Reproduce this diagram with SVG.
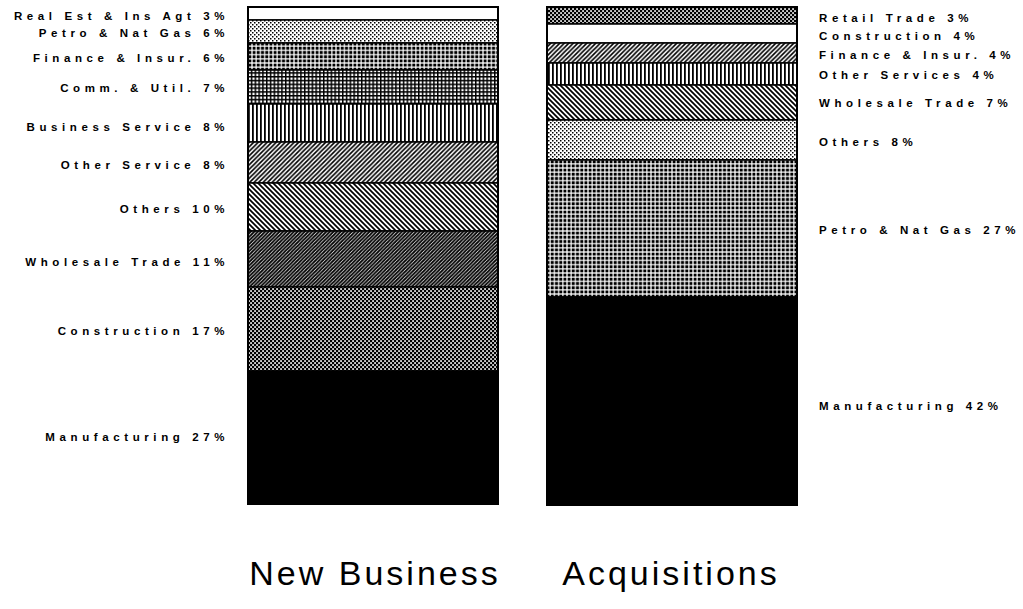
<svg xmlns="http://www.w3.org/2000/svg" width="1023" height="609" viewBox="0 0 1023 609">
<style>
.lbl{font-family:"Liberation Sans",Arial,sans-serif;font-weight:bold;font-size:11.5px;letter-spacing:4.6px;fill:#000}
.l{text-anchor:end}
.ttl{font-family:"Liberation Sans",Arial,sans-serif;font-size:34px;letter-spacing:3px;fill:#000;text-anchor:middle}
.seg{stroke:#000;stroke-width:1.5}
.out{fill:none;stroke:#000;stroke-width:2}
</style>
<defs>
<pattern id="pFine" width="4" height="4" patternUnits="userSpaceOnUse">
<rect width="4" height="4" fill="#fff"/>
<rect x="0" y="0" width="1.5" height="1.5" fill="#000"/>
<rect x="2" y="2" width="1.5" height="1.5" fill="#000"/>
</pattern>
<pattern id="pDots" width="4.2" height="4.2" patternUnits="userSpaceOnUse">
<rect width="4.2" height="4.2" fill="#fff"/>
<rect x="0.6" y="0.6" width="3" height="3" fill="#000"/>
</pattern>
<pattern id="pGrid" width="3.8" height="3.8" patternUnits="userSpaceOnUse">
<rect width="3.8" height="3.8" fill="#fff"/>
<rect x="0" y="0" width="3.8" height="1.5" fill="#000"/>
<rect x="0" y="0" width="1.5" height="3.8" fill="#000"/>
</pattern>
<pattern id="pVert" width="4" height="4" patternUnits="userSpaceOnUse">
<rect width="4" height="4" fill="#fff"/>
<rect x="0" y="0" width="1.8" height="4" fill="#000"/>
</pattern>
<pattern id="pFwd" width="4.5" height="4.5" patternUnits="userSpaceOnUse">
<rect width="4.5" height="4.5" fill="#fff"/>
<path d="M-1,1 L1,-1 M0,4.5 L4.5,0 M3.5,5.5 L5.5,3.5" stroke="#000" stroke-width="1.6"/>
</pattern>
<pattern id="pBack" width="5" height="5" patternUnits="userSpaceOnUse">
<rect width="5" height="5" fill="#fff"/>
<path d="M-1,4 L1,6 M0,0 L5,5 M4,-1 L6,1" stroke="#000" stroke-width="1.7"/>
</pattern>
<pattern id="pFwdDark" width="3.6" height="3.6" patternUnits="userSpaceOnUse">
<rect width="3.6" height="3.6" fill="#fff"/>
<path d="M-1,1 L1,-1 M0,3.6 L3.6,0 M2.6,4.6 L4.6,2.6" stroke="#000" stroke-width="1.8"/>
</pattern>
<pattern id="pDark" width="4" height="4" patternUnits="userSpaceOnUse">
<rect width="4" height="4" fill="#000"/>
<rect x="0.2" y="0.2" width="1.7" height="1.7" fill="#fff"/>
<rect x="2.2" y="2.2" width="1.7" height="1.7" fill="#fff"/>
</pattern>
</defs>

<g id="new-business">
<g id="nb-realest"><rect class="seg" x="248" y="7" width="250" height="13" fill="#fff"/></g>
<g id="nb-petro"><rect class="seg" x="248" y="20" width="250" height="23" fill="url(#pFine)"/></g>
<g id="nb-finance"><rect class="seg" x="248" y="43" width="250" height="27" fill="url(#pDots)"/></g>
<g id="nb-comm"><rect class="seg" x="248" y="70" width="250" height="34" fill="url(#pGrid)"/></g>
<g id="nb-business"><rect class="seg" x="248" y="104" width="250" height="38" fill="url(#pVert)"/></g>
<g id="nb-otherservice"><rect class="seg" x="248" y="142" width="250" height="41" fill="url(#pFwd)"/></g>
<g id="nb-others"><rect class="seg" x="248" y="183" width="250" height="48" fill="url(#pBack)"/></g>
<g id="nb-wholesale"><rect class="seg" x="248" y="231" width="250" height="56" fill="url(#pFwdDark)"/></g>
<g id="nb-construction"><rect class="seg" x="248" y="287" width="250" height="84" fill="url(#pDark)"/></g>
<g id="nb-manufacturing"><rect class="seg" x="248" y="371" width="250" height="133" fill="#000"/></g>
<rect class="out" x="248" y="7" width="250" height="497"/>
</g>

<g id="acquisitions">
<g id="aq-retail"><rect class="seg" x="547" y="7" width="250" height="17" fill="url(#pDark)"/></g>
<g id="aq-construction"><rect class="seg" x="547" y="24" width="250" height="19" fill="#fff"/></g>
<g id="aq-finance"><rect class="seg" x="547" y="43" width="250" height="20" fill="url(#pFwd)"/></g>
<g id="aq-otherservices"><rect class="seg" x="547" y="63" width="250" height="22" fill="url(#pVert)"/></g>
<g id="aq-wholesale"><rect class="seg" x="547" y="85" width="250" height="35" fill="url(#pBack)"/></g>
<g id="aq-others"><rect class="seg" x="547" y="120" width="250" height="40" fill="url(#pFine)"/></g>
<g id="aq-petro"><rect class="seg" x="547" y="160" width="250" height="137" fill="url(#pDots)"/></g>
<g id="aq-manufacturing"><rect class="seg" x="547" y="297" width="250" height="208" fill="#000"/></g>
<rect class="out" x="547" y="7" width="250" height="498"/>
</g>

<g id="labels-left">
<text class="lbl l" x="229" y="20">Real Est &amp; Ins Agt 3%</text>
<text class="lbl l" x="229" y="37">Petro &amp; Nat Gas 6%</text>
<text class="lbl l" x="229" y="62">Finance &amp; Insur. 6%</text>
<text class="lbl l" x="229" y="92">Comm. &amp; Util. 7%</text>
<text class="lbl l" x="229" y="131">Business Service 8%</text>
<text class="lbl l" x="229" y="169">Other Service 8%</text>
<text class="lbl l" x="229" y="213">Others 10%</text>
<text class="lbl l" x="229" y="266">Wholesale Trade 11%</text>
<text class="lbl l" x="229" y="335">Construction 17%</text>
<text class="lbl l" x="229" y="441">Manufacturing 27%</text>
</g>

<g id="labels-right">
<text class="lbl" x="819" y="22">Retail Trade 3%</text>
<text class="lbl" x="819" y="40">Construction 4%</text>
<text class="lbl" x="819" y="59">Finance &amp; Insur. 4%</text>
<text class="lbl" x="819" y="79">Other Services 4%</text>
<text class="lbl" x="819" y="107">Wholesale Trade 7%</text>
<text class="lbl" x="819" y="146">Others 8%</text>
<text class="lbl" x="819" y="234">Petro &amp; Nat Gas 27%</text>
<text class="lbl" x="819" y="410">Manufacturing 42%</text>
</g>

<g id="titles">
<text class="ttl" x="375" y="585">New Business</text>
<text class="ttl" x="671" y="585">Acquisitions</text>
</g>
</svg>
